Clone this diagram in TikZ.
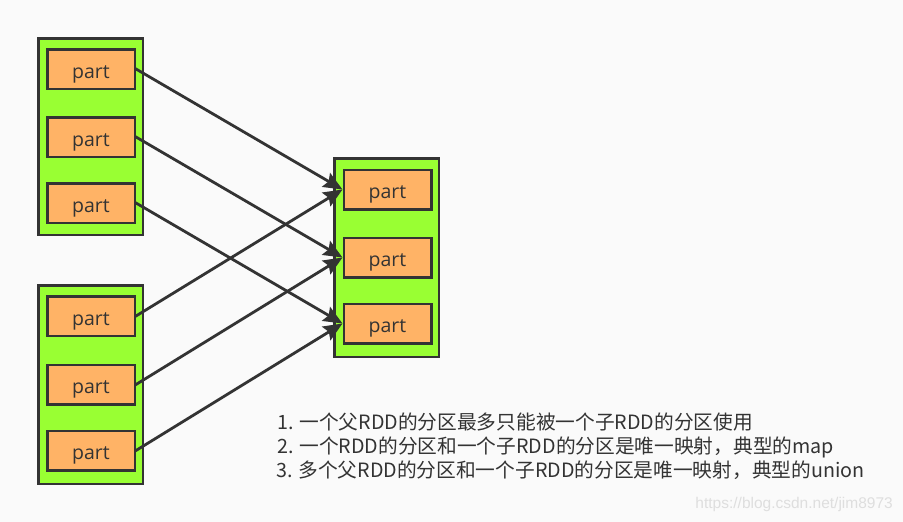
\documentclass[tikz,border=0pt]{standalone}
\usepackage{fontspec}
\setmainfont{Noto Sans CJK SC}
\newfontfamily\wmfont{Liberation Sans}
\newfontfamily\partfont{Open Sans}
\usetikzlibrary{arrows.meta}
\definecolor{bgc}{RGB}{250,250,250}
\definecolor{grn}{RGB}{153,255,51}
\definecolor{org}{RGB}{255,179,102}
\definecolor{dk}{RGB}{51,51,51}
\definecolor{wm}{RGB}{222,222,222}
\tikzset{
  container/.style={draw=dk, fill=grn, line width=2.5pt, minimum width=104.5pt, inner sep=0pt},
  partbox/.style={draw=dk, fill=org, line width=2.5pt, minimum width=87.5pt, minimum height=39.5pt, inner sep=0pt, text=dk, text height=18pt, text depth=0pt, font=\partfont\fontsize{19.5}{22}\selectfont},
  link/.style={draw=dk, line width=2.8pt, -{Stealth[length=19pt, width=16pt, inset=3pt]}, shorten <=-1pt},
  note/.style={anchor=base west, inner sep=0pt, text=dk, font=\fontsize{19.7}{22}\selectfont},
}
\begin{document}
\begin{tikzpicture}[x=1pt, y=-1pt]
\fill[bgc] (0,0) rectangle (903,522);
\useasboundingbox (0,0) rectangle (903,522);
% containers
\node[container, minimum height=196.5pt] (c1) at (90.5,136.5) {};
\node[container, minimum height=198.5pt] (c2) at (90.5,384.5) {};
\node[container, minimum height=198.5pt] (c3) at (386.5,257.5) {};
% left top parts
\node[partbox] (a1) at (91,69) {part};
\node[partbox] (a2) at (91,137) {part};
\node[partbox] (a3) at (91,203) {part};
% left bottom parts
\node[partbox] (b1) at (91,316) {part};
\node[partbox] (b2) at (91,384.5) {part};
\node[partbox] (b3) at (91,450.5) {part};
% right parts
\node[partbox] (r1) at (387.5,189.5) {part};
\node[partbox] (r2) at (387.5,257.5) {part};
\node[partbox] (r3) at (387.5,323.5) {part};
% arrows
\draw[link] (a1.east) -- (r1.west);
\draw[link] (a2.east) -- (r2.west);
\draw[link] (a3.east) -- (r3.west);
\draw[link] (b1.east) -- (r1.west);
\draw[link] (b2.east) -- (r2.west);
\draw[link] (b3.east) -- (r3.west);
% notes
\node[note] (n1) at (277,429) {1. 一个父RDD的分区最多只能被一个子RDD的分区使用};
\node[note] (n2) at (277,453) {2. 一个RDD的分区和一个子RDD的分区是唯一映射，典型的map};
\node[note] (n3) at (276,477) {3. 多个父RDD的分区和一个子RDD的分区是唯一映射，典型的union};
\node[anchor=base east, inner sep=0pt, text=wm, font=\wmfont\fontsize{15.5}{18}\selectfont] (wm) at (893,508) {https://blog.csdn.net/jim8973};
\end{tikzpicture}
\end{document}
